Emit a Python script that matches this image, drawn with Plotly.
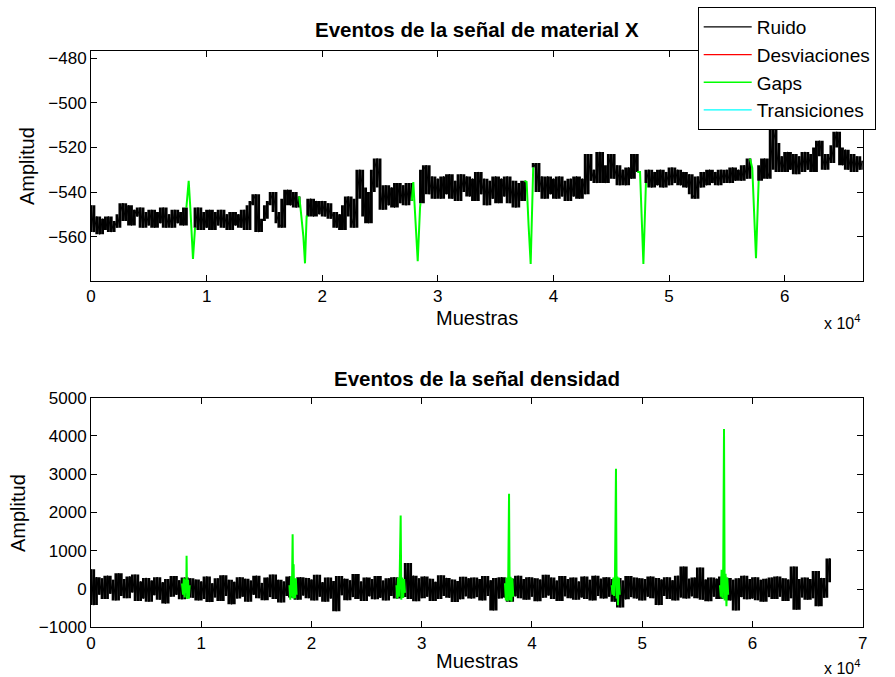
import plotly.graph_objects as go

# ---------------- data ----------------
STEP = 250  # samples between consecutive read values

# Top signal ("material X"), one value every 250 samples; None = covered by an event
top_ruido = [
    -546, -558, -551, -559, -552, -557, -551, -558, -553, -556, -550, -545, -553, -546, -555, -548, -551, -547, -556, -549,
    -555, -548, -556, -549, -554, -547, -556, -550, -556, -548, -554, -549, -555, -547, None, None, -556, -547, -557, -549,
    -556, -548, -557, -549, -555, -548, -556, -550, -557, -549, -555, -550, -556, -548, -557, -546, -544, -541, -558, -553,
    -552, -546, -544, -540, -549, -554, -556, -543, -539, -546, -540, -547, -542, None, None, -551, -543, -551, -544, -550,
    -544, -551, -545, -552, -549, -556, -550, -557, -546, -542, -551, -556, -543, -530, -538, -551, -554, -540, -530, -525,
    -538, -548, -537, -546, -538, -547, -536, -545, -537, -546, -536, -544, None, None, -545, -530, -528, -541, -533, -543,
    -534, -543, -533, -541, -532, -543, -535, -544, -532, -540, -533, -542, -534, -544, -531, -541, -534, -546, -535, -543,
    -533, -545, -534, -542, -533, -545, -535, -547, -536, -544, -535, None, None, -529, -527, -540, -533, -543, -533, -541,
    -534, -543, -533, -542, -535, -544, -534, -542, -533, -543, -534, -541, -523, -535, -530, -536, -522, -532, -536, -528,
    -523, -534, -528, -537, -530, -537, -529, -534, -523, -531, None, None, -536, -530, -538, -531, -537, -530, -538, -531,
    -537, -529, -536, -530, -537, -531, -538, -532, -541, -543, -533, -538, -531, -537, -530, -536, -531, -537, -530, -536,
    -530, -536, -529, -535, -530, -535, -528, -534, -525, None, None, -535, -528, -525, -534, -530, -512, -518, -531, -524,
    -531, -522, -530, -523, -532, -524, -531, -522, -530, -523, -531, -520, -517, -524, -530, -523, -527, -519, -513, -520,
    -528, -521, -530, -523, -531, -524, -530, -526,
]

# Gap events on the top signal: (sample, amplitude) pairs
top_gap_1 = [(8250, -547), (8450, -535), (8600, -548), (8820, -570), (9000, -556)]
top_gap_2 = [(18000, -542), (18100, -546), (18370, -560), (18510, -572), (18650, -551), (18750, -551)]
top_gap_3 = [(27750, -544), (27880, -535.5), (28260, -571), (28460, -547), (28500, -545)]
top_gap_4 = [(37500, -535), (37680, -535.5), (37850, -555), (38030, -572.3), (38250, -529)]
top_gap_5 = [(47250, -531), (47490, -531), (47780, -572.3), (48000, -536)]
top_gap_6 = [(57000, -525), (57200, -529.3), (57520, -569.7), (57750, -535)]

# Bottom signal ("densidad"), one value every 250 samples
dens_ruido = [
    520, -420, 310, -150, 280, -260, 350, -120, 240, -300, 410, -180, 260, -240, 330, -90, 380, -310, 200, -250,
    290, -330, 220, -160, 310, -280, 180, -380, 260, -200, 340, -150, 230, -270, 300, -190, 280, -230, 250, -300,
    200, -260, 330, -340, 150, -220, 280, -310, 360, -180, 240, -400, 190, -250, 310, -200, 270, -330, 220, -150,
    350, -240, 160, -290, 300, -210, 380, -260, 240, -350, 200, -180, 330, -220, 260, -280, 310, -170, 290, -240,
    250, -300, 370, -200, 180, -330, 300, -250, 210, -580, 340, -160, 270, -290, 230, -210, 390, -260, 200, -310,
    300, -190, 260, -270, 340, -230, 220, -300, 280, -180, 310, -250, 240, -210, -150, 680, -260, 350, -320, 280,
    -240, 330, -200, 270, -310, 190, -260, 360, -180, 290, -230, 250, -340, 210, -270, 320, -190, 280, -250, 300,
    -210, 260, -300, 340, -180, 230, -560, 290, -250, 310, -220, 200, -330, 270, -190, 350, -240, 260, -280, 310,
    -200, 280, -320, 250, -230, 370, -170, 300, -260, 220, -310, 340, -190, 260, -240, 300, -280, 200, -220, 330,
    -260, 240, -300, 350, -180, 270, -250, 310, -200, 260, -330, 290, -480, 220, -270, 340, -210, 300, -250, 280,
    -300, 260, -200, 330, -240, 290, -420, 250, -180, 310, -260, 230, -300, 350, -220, 590, -250, 270, -190, 300,
    -240, 560, -280, 250, -320, 300, -200, 270, -260, 330, -230, 290, -300, 240, -560, 280, -210, 350, -270, 260,
    -250, 310, -290, 240, -330, 270, -210, 300, -260, 330, -200, 280, -310, 250, -240, 590, -540, 260, -220, 300,
    -280, 260, -240, 470, -450, 290, -230, 180, 800,
]

dens_gap_1 = [(8250, 150), (8350, -150), (8420, 280), (8500, -220), (8580, 250), (8640, -100), (8670, 870),
              (8720, -260), (8800, 240), (8870, -250), (8950, 100)]
dens_gap_2 = [(18000, 100), (18080, -280), (18150, 330), (18220, -200), (18290, 1430), (18340, -250),
              (18380, 650), (18420, -150), (18500, -240), (18580, 280), (18650, -150)]
dens_gap_3 = [(27700, 100), (27780, -250), (27850, 300), (27930, -200), (28000, 320), (28090, 1920),
              (28150, -280), (28230, 300), (28320, -230), (28400, 260), (28480, -100)]
dens_gap_4 = [(37550, 150), (37630, -300), (37700, 300), (37780, -320), (37850, 350), (37920, 2490),
              (37980, -300), (38060, 320), (38140, -330), (38220, 280), (38300, -200)]
dens_gap_5 = [(47230, 100), (47300, -150), (47380, 300), (47450, -180), (47530, 350), (47620, 3140),
              (47680, -250), (47740, 330), (47800, -420), (47880, 300), (47960, -150)]
dens_gap_6 = [(57050, 100), (57130, -200), (57200, 500), (57280, -250), (57350, 600), (57420, 4180),
              (57480, -300), (57560, 400), (57640, -450), (57720, 300), (57800, -150)]

top_xticks = [0, 10000, 20000, 30000, 40000, 50000, 60000]
top_xlabels = ["0", "1", "2", "3", "4", "5", "6"]
bot_xticks = [0, 10000, 20000, 30000, 40000, 50000, 60000, 70000]
bot_xlabels = ["0", "1", "2", "3", "4", "5", "6", "7"]
top_yticks = [-560, -540, -520, -500, -480]
bot_yticks = [-1000, 0, 1000, 2000, 3000, 4000, 5000]

legend_names = ["Ruido", "Desviaciones", "Gaps", "Transiciones"]
legend_colors = ["#000000", "#ff0000", "#00ff00", "#00ffff"]

# ---------------- helpers ----------------
def join_events(events):
    xs, ys = [], []
    for ev in events:
        xs += [p[0] for p in ev] + [None]
        ys += [p[1] for p in ev] + [None]
    return xs, ys


def envelope(xs, vals):
    """Local min/max (3-point neighbourhood) of the dense signal, so the noise
    renders as a solid band like the original plot."""
    ox, lo, span = [], [], []
    n = len(vals)
    for i in range(n):
        if vals[i] is None:
            continue
        nb = [vals[j] for j in (i - 1, i, i + 1) if 0 <= j < n and vals[j] is not None]
        ox.append(xs[i])
        lo.append(min(nb))
        span.append(max(nb) - min(nb))
    return ox, lo, span


W, H = 895, 677
FONT = "Liberation Sans, Arial, Helvetica, sans-serif"

fig = go.Figure()

# legend entries first (thin lines, as in the reference legend)
for rank, (nm, col) in enumerate(zip(legend_names, legend_colors), start=1):
    fig.add_trace(go.Scatter(x=[None], y=[None], mode="lines", line=dict(color=col, width=1.3),
                             name=nm, legendrank=rank, xaxis="x", yaxis="y"))

# top subplot
tx = [i * STEP for i in range(len(top_ruido))]
ex, elo, espan = envelope(tx, top_ruido)
fig.add_trace(go.Bar(x=ex, y=espan, base=elo, width=STEP, marker=dict(color="#000000", line=dict(width=0)),
                     showlegend=False, hoverinfo="skip", xaxis="x", yaxis="y"))
fig.add_trace(go.Scatter(x=tx, y=top_ruido, mode="lines",
                         line=dict(color="#000000", width=1, simplify=False),
                         showlegend=False, xaxis="x", yaxis="y"))
gx, gy = join_events([top_gap_1, top_gap_2, top_gap_3, top_gap_4, top_gap_5, top_gap_6])
fig.add_trace(go.Scatter(x=gx, y=gy, mode="lines", line=dict(color="#00ff00", width=2, simplify=False),
                         showlegend=False, xaxis="x", yaxis="y"))

# bottom subplot
bx = [i * STEP for i in range(len(dens_ruido))]
ex2, elo2, espan2 = envelope(bx, dens_ruido)
fig.add_trace(go.Bar(x=ex2, y=espan2, base=elo2, width=STEP, marker=dict(color="#000000", line=dict(width=0)),
                     showlegend=False, hoverinfo="skip", xaxis="x2", yaxis="y2"))
fig.add_trace(go.Scatter(x=bx, y=dens_ruido, mode="lines",
                         line=dict(color="#000000", width=1.2, simplify=False),
                         showlegend=False, xaxis="x2", yaxis="y2"))
gx2, gy2 = join_events([dens_gap_1, dens_gap_2, dens_gap_3, dens_gap_4, dens_gap_5, dens_gap_6])
fig.add_trace(go.Scatter(x=gx2, y=gy2, mode="lines", line=dict(color="#00ff00", width=2, simplify=False),
                         showlegend=False, xaxis="x2", yaxis="y2"))

x_dom = [91 / W, 862.7 / W]
top_dom = [1 - 280.7 / H, 1 - 50.7 / H]
bot_dom = [1 - 627.3 / H, 1 - 397.7 / H]

axis_common = dict(showline=True, linecolor="black", linewidth=1, mirror="allticks", ticks="inside",
                   ticklen=6, tickcolor="black", showgrid=False, zeroline=False,
                   tickfont=dict(family=FONT, size=17, color="black"))

fig.update_layout(
    width=W, height=H, margin=dict(l=0, r=0, t=0, b=0, autoexpand=False),
    paper_bgcolor="white", plot_bgcolor="white",
    font=dict(family=FONT, color="black"),
    barmode="overlay",
    xaxis=dict(domain=x_dom, range=[0, 66750], tickvals=top_xticks, ticktext=top_xlabels,
               anchor="y", **axis_common),
    yaxis=dict(domain=top_dom, range=[-579.8, -476.6], tickvals=top_yticks, anchor="x", **axis_common),
    xaxis2=dict(domain=x_dom, range=[0, 70000], tickvals=bot_xticks, ticktext=bot_xlabels,
                anchor="y2", **axis_common),
    yaxis2=dict(domain=bot_dom, range=[-1000, 5000], tickvals=bot_yticks, anchor="x2", **axis_common),
    legend=dict(x=697.7 / W, y=1 - 7 / H, xanchor="left", yanchor="top", bgcolor="white",
                bordercolor="black", borderwidth=1, font=dict(family=FONT, size=19, color="black"),
                tracegroupgap=0, itemwidth=48),
    showlegend=True,
)

def px_note(text, x, y, size, bold=False, angle=0, xanchor="center"):
    fig.add_annotation(text=("<b>%s</b>" % text) if bold else text, x=x / W, y=1 - y / H,
                       xref="paper", yref="paper", showarrow=False, textangle=angle,
                       xanchor=xanchor, yanchor="middle", font=dict(family=FONT, size=size, color="black"))

px_note("Eventos de la señal de material X", 477, 30, 20.5, bold=True)
px_note("Eventos de la señal densidad", 477, 378, 20.5, bold=True)
px_note("Amplitud", 27, 166, 20, angle=-90)
px_note("Amplitud", 18, 513, 20, angle=-90)
px_note("Muestras", 477, 318, 20)
px_note("Muestras", 477, 661, 20)
px_note("x 10<sup>4</sup>", 822, 322, 16, xanchor="left")
px_note("x 10<sup>4</sup>", 822, 667, 16, xanchor="left")

fig.write_html("out.html")
